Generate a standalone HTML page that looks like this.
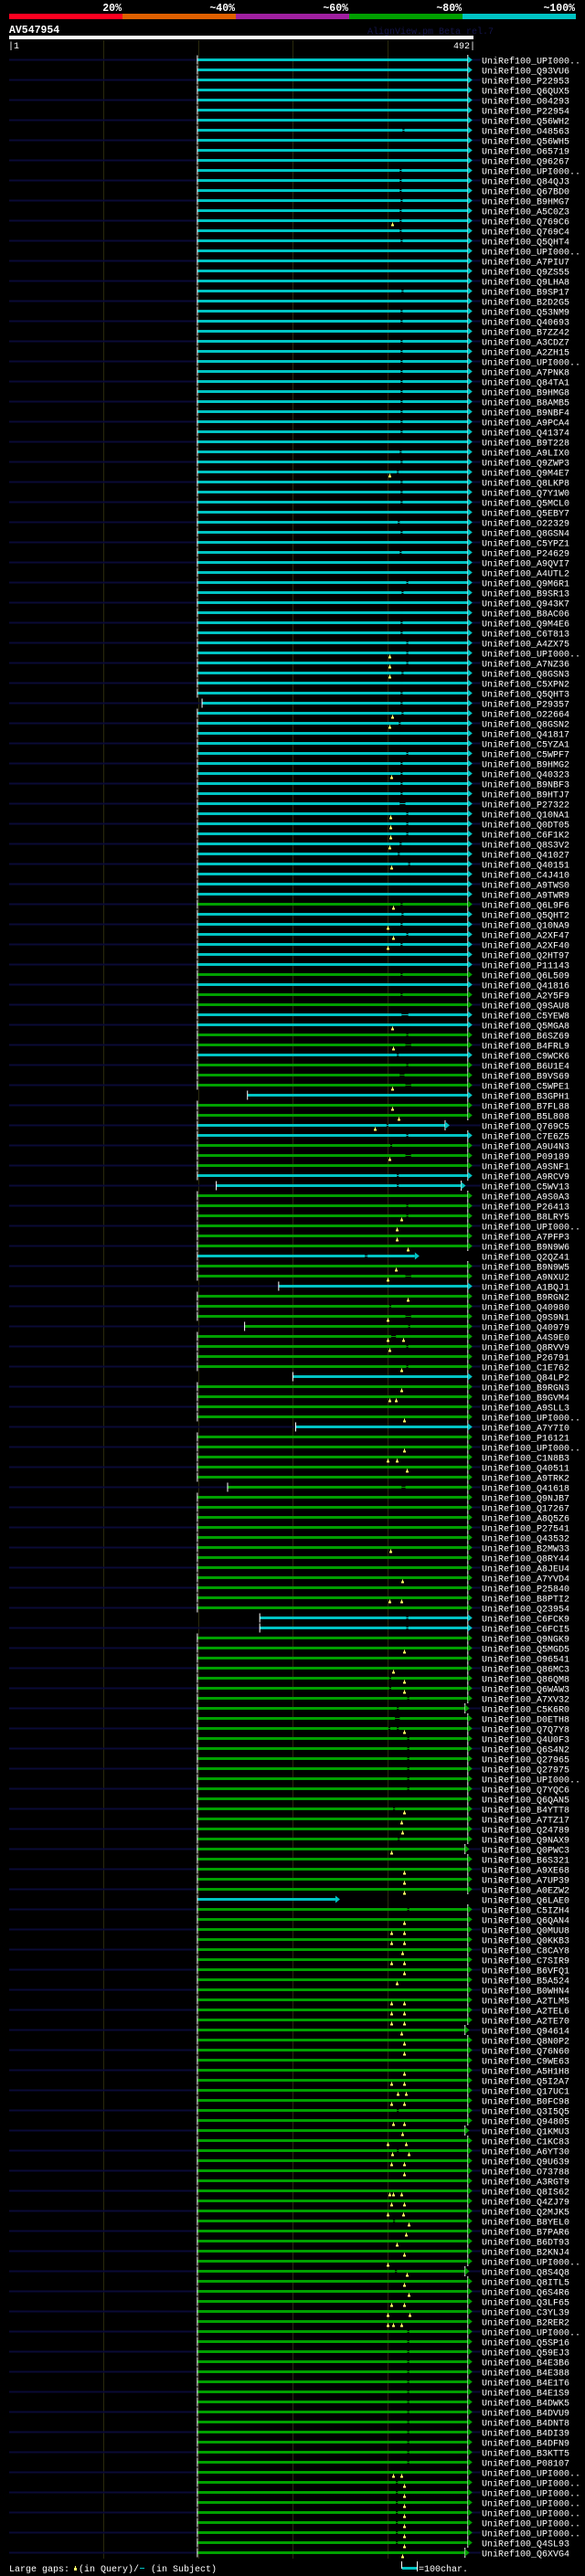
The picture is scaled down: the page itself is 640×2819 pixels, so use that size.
<!DOCTYPE html>
<html><head><meta charset="utf-8"><title>AV547954 alignment view</title>
<style>
html,body{margin:0;padding:0;background:#000;}
svg{display:block;}
text{font-family:"Liberation Mono",monospace;}
</style></head>
<body>
<svg id="chart" xmlns="http://www.w3.org/2000/svg" width="640" height="2819" viewBox="0 0 640 2819">
<rect x="0" y="0" width="640" height="2819" fill="#000"/>
<g>
<rect x="10" y="15" width="124" height="6" fill="#ff0020"/>
<rect x="134" y="15" width="124" height="6" fill="#e06000"/>
<rect x="258" y="15" width="124" height="6" fill="#a020a0"/>
<rect x="382" y="15" width="124" height="6" fill="#00a000"/>
<rect x="506" y="15" width="124" height="6" fill="#00c4c4"/>
<text x="133" y="12" fill="#fff" font-size="11.5" font-weight="bold" text-anchor="end">20%</text>
<text x="257" y="12" fill="#fff" font-size="11.5" font-weight="bold" text-anchor="end">~40%</text>
<text x="381" y="12" fill="#fff" font-size="11.5" font-weight="bold" text-anchor="end">~60%</text>
<text x="505" y="12" fill="#fff" font-size="11.5" font-weight="bold" text-anchor="end">~80%</text>
<text x="629" y="12" fill="#fff" font-size="11.5" font-weight="bold" text-anchor="end">~100%</text>
</g>
<text x="10" y="36" fill="#fff" font-size="11.5" font-weight="bold">AV547954</text>
<text x="402" y="37" fill="#14144a" font-size="10">AlignView.pm Beta rel.7</text>
<rect x="10" y="39" width="508" height="4" fill="#fff"/>
<text x="9" y="53" fill="#fff" font-size="10">|1</text>
<text x="520" y="53" fill="#fff" font-size="10" text-anchor="end">492|</text>
<g id="grid"></g>
<g id="rows"></g>
<g>
<text x="10" y="2814" fill="#fff" font-size="10">Large gaps:</text>
<rect x="82" y="2808" width="1" height="2" fill="#ffff66"/>
<rect x="81" y="2810" width="3" height="3" fill="#ffff66"/>
<text x="86" y="2814" fill="#fff" font-size="10">(in Query)/</text>
<rect x="153" y="2810" width="5" height="1" fill="#00c4c4"/>
<text x="165" y="2814" fill="#fff" font-size="10">(in Subject)</text>
<rect x="439" y="2803" width="1" height="8" fill="#fff"/>
<rect x="440" y="2809" width="16" height="3" fill="#00c4c4"/>
<rect x="456" y="2803" width="1" height="11" fill="#fff"/>
<text x="458" y="2814" fill="#fff" font-size="10">=100char.</text>
</g>
</svg>
<script>
const names = ["UPI000..","Q93VU6","P22953","Q6QUX5","O04293","P22954","Q56WH2","O48563","Q56WH5","O65719",
"Q96267","UPI000..","Q84QJ3","Q67BD0","B9HMG7","A5C0Z3","Q769C6","Q769C4","Q5QHT4","UPI000..",
"A7PIU7","Q9ZS55","Q9LHA8","B9SP17","B2D2G5","Q53NM9","Q40693","B7ZZ42","A3CDZ7","A2ZH15",
"UPI000..","A7PNK8","Q84TA1","B9HMG8","B8AMB5","B9NBF4","A9PCA4","Q41374","B9T228","A9LIX0",
"Q9ZWP3","Q9M4E7","Q8LKP8","Q7Y1W0","Q5MCL0","Q5EBY7","O22329","Q8GSN4","C5YPZ1","P24629",
"A9QVI7","A4UTL2","Q9M6R1","B9SR13","Q943K7","B8AC06","Q9M4E6","C6T813","A4ZX75","UPI000..",
"A7NZ36","Q8GSN3","C5XPN2","Q5QHT3","P29357","O22664","Q8GSN2","Q41817","C5YZA1","C5WPF7",
"B9HMG2","Q40323","B9NBF3","B9HTJ7","P27322","Q10NA1","Q0DT05","C6F1K2","Q8S3V2","Q41027",
"Q40151","C4J410","A9TWS0","A9TWR9","Q6L9F6","Q5QHT2","Q10NA9","A2XF47","A2XF40","Q2HT97",
"P11143","Q6L509","Q41816","A2Y5F9","Q9SAU8","C5YEW8","Q5MGA8","B6SZ69","B4FRL9","C9WCK6",
"B6U1E4","B9VS69","C5WPE1","B3GPH1","B7FL88","B5L808","Q769C5","C7E6Z5","A9U4N3","P09189",
"A9SNF1","A9RCV9","C5WV13","A9S0A3","P26413","B8LRY5","UPI000..","A7PFP3","B9N9W6","Q2QZ41",
"B9N9W5","A9NXU2","A1BQJ1","B9RGN2","Q40980","Q9S9N1","Q40979","A4S9E0","Q8RVV9","P26791",
"C1E762","Q84LP2","B9RGN3","B9GVM4","A9SLL3","UPI000..","A7Y7I0","P16121","UPI000..","C1N8B3",
"Q40511","A9TRK2","Q41618","Q9NJB7","Q17267","A8Q5Z6","P27541","Q43532","B2MW33","Q8RY44",
"A8JEU4","A7YVD4","P25840","B8PTI2","Q23954","C6FCK9","C6FCI5","Q9NGK9","Q5MGD5","O96541",
"Q86MC3","Q86QM8","Q6WAW3","A7XV32","C5K6R0","D0ETH8","Q7Q7Y8","Q4U0F3","Q6S4N2","Q27965",
"Q27975","UPI000..","Q7YQC6","Q6QAN5","B4YTT8","A7TZ17","Q24789","Q9NAX9","Q0PWC3","B6S321",
"A9XE68","A7UP39","A0EZW2","Q6LAE0","C5IZH4","Q6QAN4","Q0MUU8","Q0KKB3","C8CAY8","C7SIR9",
"B6VFQ1","B5A524","B0WHN4","A2TLM5","A2TEL6","A2TE70","Q94614","Q8N0P2","Q76N60","C9WE63",
"A5H1H8","Q5I2A7","Q17UC1","B0FC98","Q3I5Q5","Q94805","Q1KMU3","C1KC83","A6YT30","Q9U639",
"O73788","A3RGT9","Q8IS62","Q4ZJ79","Q2MJK5","B8YEL0","B7PAR6","B6DT93","B2KNJ4","UPI000..",
"Q8S4Q8","Q8ITL5","Q6S4R6","Q3LF65","C3YL39","B2RER2","UPI000..","Q5SP16","Q59EJ3","B4E3B6",
"B4E388","B4E1T6","B4E1S9","B4DWK5","B4DVU9","B4DNT8","B4DI39","B4DFN9","B3KTT5","P08107",
"UPI000..","UPI000..","UPI000..","UPI000..","UPI000..","UPI000..","UPI000..","Q4SL93","Q6XVG4"];

// identity class runs: c = ~100% (cyan), g = ~80% (green)
const colorRuns = [["c",84],["g",1],["c",6],["g",1],["c",1],["g",2],["c",2],["g",2],["c",1],["g",3],["c",1],["g",2],["c",2],["g",3],["c",2],["g",6],["c",1],["g",2],["c",1],["g",8],["c",1],["g",4],["c",1],["g",18],["c",2],["g",26],["c",1],["g",65]];

const defaultStart = 200;
const defaultEnd = 486;
const startOverrides = [[64,205],[103,253],[112,220],[122,286],[126,250],[131,301],[136,304],[142,232],[155,266],[156,266]];
const endOverrides = [[106,462],[112,479],[119,430],[164,483],[178,483],[183,346],[196,483],[206,483],[220,483],[248,483]];

// subject gaps [rowIndex, fromResidue, toResidue]
const subjectGaps = [[7,417,419],[11,414,416],[12,414,416],[13,414,416],[14,415,417],[15,414,416],[16,414,416],[17,414,416],[18,415,417],[23,416,418],
[25,415,417],[26,415,417],[28,415,417],[29,415,417],[30,415,417],[31,415,417],[32,415,417],[33,415,417],[34,415,417],[35,415,417],[36,415,417],[37,415,417],
[39,414,416],[40,415,417],[41,411,413],[42,415,417],[43,415,417],[44,415,417],[46,412,414],[47,415,417],[49,414,416],
[52,421,423],[53,416,418],[56,415,417],[57,415,417],[58,421,423],[59,421,423],[60,421,423],[61,416,418],[63,415,417],[64,415,417],[65,416,418],[66,413,415],
[69,421,423],[70,415,417],[71,415,417],[72,415,417],[73,415,417],[74,414,420],[75,421,423],[76,421,423],[77,421,423],[78,414,416],[79,412,414],[80,423,425],
[84,415,417],[85,416,418],[86,415,417],[87,421,423],[88,415,417],[91,415,417],[93,415,417],[95,416,423],[97,421,423],[98,420,426],[99,411,413],
[100,421,423],[101,414,419],[102,420,426],[106,400,402],[107,421,423],[108,404,406],[109,420,426],[111,411,413],[112,411,413],[114,421,423],[115,421,423],
[119,377,380],[121,420,426],[124,403,405],[125,420,426],[126,423,425],[127,405,410],[128,421,423],[130,421,423],[142,416,420],[155,421,423],[156,421,423],
[161,403,405],[162,403,405],[163,422,424],[164,411,413],[165,409,414],[166,402,404],[166,411,413],[167,422,424],[168,422,424],[169,422,424],[170,422,424],[171,422,424],[172,422,424],
[174,407,409],[177,412,414],[184,422,424],[204,411,413],[208,411,413],[215,407,409],[220,409,411],
[226,422,424],[227,422,424],[228,422,424],[229,422,424],[230,422,424],[231,422,424],[232,422,424],[233,422,424],[234,422,424],[235,422,424],[236,422,424],[237,422,424],[238,422,424],[239,422,424],
[241,410,412],[242,410,412],[243,410,412],[244,410,412],[245,410,412],[246,410,412],[247,410,412]];

// query gaps (insertions) [rowIndex, residue]
const queryGaps = [[16,406],[41,403],[59,403],[60,403],[61,403],[65,406],[66,403],[71,405],[75,404],[76,404],[77,404],[78,403],[80,405],
[84,407],[86,401],[87,407],[88,401],[96,406],[98,407],[102,406],[104,406],[105,413],[106,388],[109,403],[115,416],[116,411],[117,411],[118,422],
[120,410],[121,401],[123,422],[125,401],[127,401],[127,418],[128,403],[130,416],[132,416],[133,403],[133,410],[135,419],[138,419],[139,401],[139,411],[140,421],
[148,404],[151,417],[153,403],[153,416],[158,419],[160,407],[161,419],[162,419],[166,419],[174,419],[175,416],[176,417],[178,405],[180,419],[181,419],[182,419],
[185,419],[186,405],[186,419],[187,405],[187,419],[188,417],[189,405],[189,419],[190,419],[191,411],[193,405],[193,419],[194,405],[194,419],[195,405],[195,419],[196,416],
[197,419],[198,419],[200,419],[201,405],[201,419],[202,412],[202,420],[203,405],[203,419],[205,407],[205,419],[206,417],[207,401],[207,420],[208,406],[208,423],
[209,405],[209,419],[210,419],[212,403],[212,407],[212,416],[213,405],[213,419],[214,401],[214,418],[215,423],[216,420],[217,411],[218,419],[219,401],[220,421],
[221,419],[222,423],[223,405],[223,419],[224,401],[224,424],[225,401],[225,407],[225,416],[240,407],[240,416],[241,419],[242,419],[243,419],[244,419],[245,419],[246,419],[247,419],[248,417]];

const gridResidues = [101,201,301,401];

const NS = "http://www.w3.org/2000/svg";
const X0 = 10, PX_PER_RES = 508/491, ROW0 = 65.5, ROW_H = 11;
function xScale(r){ return X0 + (r-1)*PX_PER_RES; }
function yScale(i){ return ROW0 + i*ROW_H; }
const COLORS = {c:"#00c4c4", g:"#00a000"};

function mk(tag, attrs, parent){
  const el = document.createElementNS(NS, tag);
  for (const k in attrs) el.setAttribute(k, attrs[k]);
  parent.appendChild(el);
  return el;
}

const types = [];
colorRuns.forEach(run => { for (let k=0;k<run[1];k++) types.push(run[0]); });
const starts = names.map(() => defaultStart);
startOverrides.forEach(o => { starts[o[0]] = o[1]; });
const ends = names.map(() => defaultEnd);
endOverrides.forEach(o => { ends[o[0]] = o[1]; });

const grid = document.getElementById("grid");
gridResidues.forEach((r) => {
  const ln = mk("rect", {x: Math.round(xScale(r)), y: 44, width: 1, height: 2756, fill: "#2a2a0c"}, grid);
  
  
});

const rowsG = document.getElementById("rows");
names.forEach((nm, i) => {
  const y = yScale(i);
  const g = mk("g", {}, rowsG);
  
  
  const col = COLORS[types[i]];
  if (i % 2 === 0) {
    const bg = mk("rect", {x: 10, y: y-1, width: 516, height: 2, fill: "#0a0a36"}, g);
    
    
  }
  const xs = xScale(starts[i]), xe = xScale(ends[i]);
  const bar = mk("rect", {x: xs, y: y-1.5, width: xe-xs, height: 3, fill: col}, g);
  
  
  subjectGaps.filter(s => s[0] === i).forEach(s => {
    const a = xScale(s[1]), b = xScale(s[2]);
    const gp = mk("rect", {x: a, y: y-1.5, width: b-a, height: 3, fill: "#000"}, g);
    
    
    const gl = mk("rect", {x: a, y: y-0.5, width: b-a, height: 1, fill: col}, g);
    
    
  });
  const st = mk("rect", {x: xs-0.5, y: y-5, width: 1, height: 10, fill: "#fff"}, g);
  
  
  if (ends[i] >= 460) {
    const et = mk("rect", {x: xe-0.5, y: y-5.5, width: 1, height: 11, fill: "#fff"}, g);
    
    
  }
  const ar = mk("polygon", {points: (xe)+","+(y-4)+" "+(xe+5)+","+y+" "+(xe)+","+(y+4), fill: col}, g);
  
  
  queryGaps.filter(q => q[0] === i).forEach(q => {
    const qx = Math.round(xScale(q[1]));
    const s1 = mk("rect", {x: qx, y: y+2, width: 1, height: 2, fill: "#ffff66"}, g);
    
    
    const s2 = mk("rect", {x: qx-1, y: y+4, width: 3, height: 2, fill: "#ffff66"}, g);
    
    
  });
  const t = mk("text", {x: 527, y: y+4, fill: "#fff", "font-size": 10}, g);
  
  
  t.textContent = "UniRef100_" + nm;
});
</script>
</body></html>
